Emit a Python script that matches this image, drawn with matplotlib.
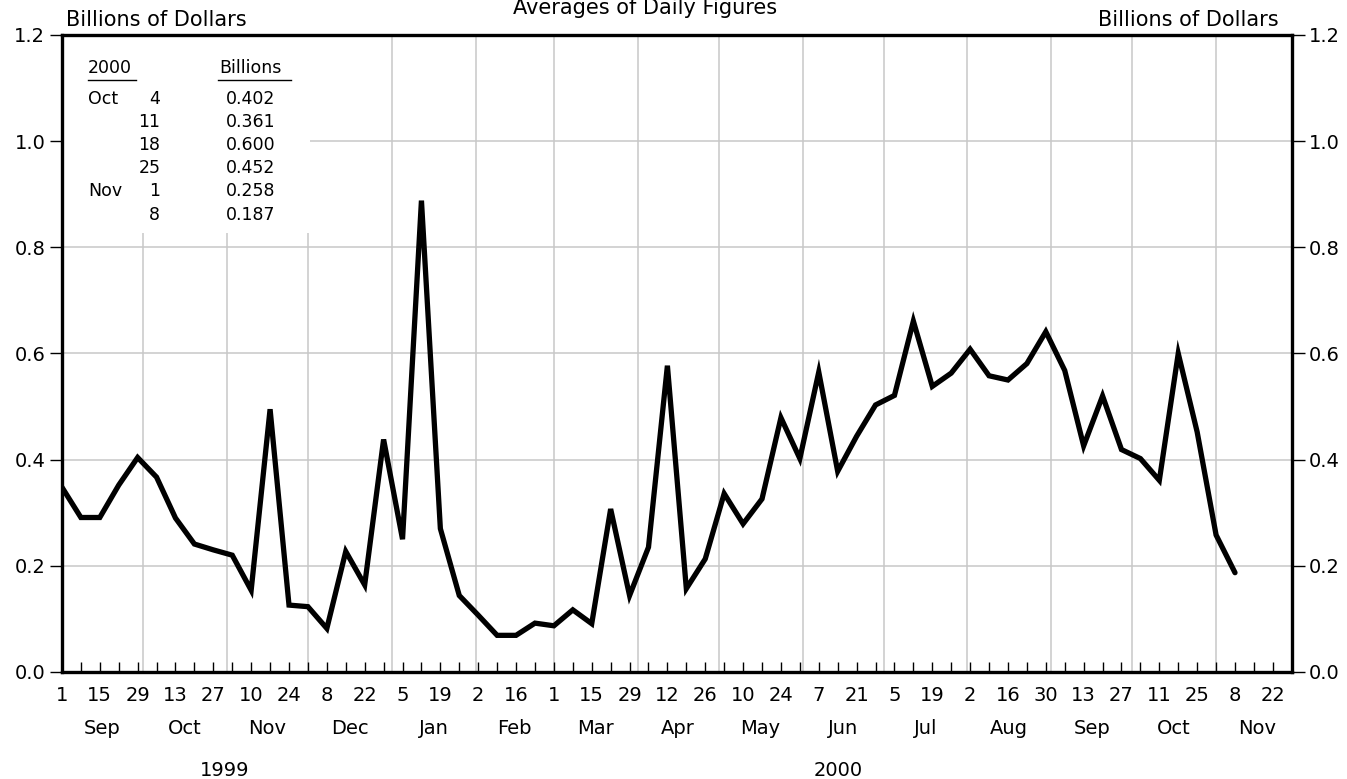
import numpy as np
import pandas as pd
import matplotlib
matplotlib.use('Agg')
import matplotlib.pyplot as plt
from matplotlib.patches import Rectangle

# weekly averages, billions of dollars, Wednesdays from Sep 1 1999
values = [0.348, 0.291, 0.291, 0.352, 0.404, 0.367, 0.290, 0.241, 0.230, 0.220,
          0.154, 0.495, 0.126, 0.123, 0.082, 0.227, 0.164, 0.438, 0.250, 0.888,
          0.270, 0.144, 0.107, 0.069, 0.069, 0.092, 0.087, 0.117, 0.091, 0.307,
          0.144, 0.235, 0.577, 0.157, 0.213, 0.336, 0.279, 0.326, 0.479, 0.402,
          0.565, 0.378, 0.444, 0.503, 0.521, 0.661, 0.538, 0.563, 0.608, 0.558,
          0.550, 0.581, 0.641, 0.568, 0.426, 0.520, 0.419, 0.402, 0.361, 0.600,
          0.452, 0.258, 0.187]
dates = pd.date_range('1999-09-01', periods=len(values), freq='7D')

tbl_month = ['Oct', '', '', '', 'Nov', '']
tbl_day = ['4', '11', '18', '25', '1', '8']
tbl_val = ['0.402', '0.361', '0.600', '0.452', '0.258', '0.187']

yticks = [0.0, 0.2, 0.4, 0.6, 0.8, 1.0, 1.2]
xstart = pd.Timestamp('1999-09-01')
xend = pd.Timestamp('2000-11-29')

fig = plt.figure(figsize=(13.47, 7.79), dpi=100)
ax = fig.add_axes([0.046, 0.1374, 0.913, 0.8177])

ax.plot(dates, values, color='black', lw=3.8, solid_joinstyle='miter',
        solid_capstyle='round', zorder=4)

ax.set_xlim(xstart, xend)
ax.set_ylim(0, 1.2)

# grid: horizontal every 0.2, vertical at month starts
for y in yticks[1:-1]:
    ax.axhline(y, color='#c8c8c8', lw=1.1, zorder=1)
month_starts = pd.date_range('1999-10-01', '2000-11-01', freq='MS')
for m in month_starts:
    ax.axvline(m, color='#c8c8c8', lw=1.1, zorder=1)

# white box behind the little table
ax.add_patch(Rectangle((0, 0.689), 0.2016, 0.311, transform=ax.transAxes,
                       facecolor='white', edgecolor='none', zorder=2))

tf = dict(transform=ax.transAxes, fontsize=12.5, zorder=5, va='center')
ax.text(0.021, 0.948, '2000', ha='left', **tf)
ax.text(0.128, 0.948, 'Billions', ha='left', **tf)
ax.plot([0.021, 0.060], [0.929, 0.929], transform=ax.transAxes, color='black', lw=1, zorder=5)
ax.plot([0.127, 0.186], [0.929, 0.929], transform=ax.transAxes, color='black', lw=1, zorder=5)
for k in range(len(tbl_val)):
    yy = 0.8995 - 0.0363 * k
    ax.text(0.021, yy, tbl_month[k], ha='left', **tf)
    ax.text(0.080, yy, tbl_day[k], ha='right', **tf)
    ax.text(0.133, yy, tbl_val[k], ha='left', **tf)

# y axis both sides
ax.set_yticks(yticks)
ax.set_yticklabels(['%.1f' % v for v in yticks])
ax.tick_params(axis='y', direction='out', length=9, width=1.0, left=True, right=True,
               labelleft=True, labelright=True, labelsize=14, pad=3)

# x axis: weekly minor ticks, biweekly labels
major = pd.date_range('1999-09-01', '2000-11-22', freq='14D')
minor = pd.date_range('1999-09-01', '2000-11-29', freq='7D')
ax.set_xticks(major)
ax.set_xticklabels([str(d.day) for d in major])
ax.set_xticks(minor, minor=True)
ax.tick_params(axis='x', which='both', direction='in', length=7, width=1.0,
               labelsize=14, pad=10, top=False)

# month names centered in each month, then years
tr = ax.get_xaxis_transform()
mbounds = pd.date_range('1999-09-01', '2000-12-01', freq='MS')
for a, b in zip(mbounds[:-1], mbounds[1:]):
    mid = a + (b - a) / 2
    ax.text(mid, -0.088, a.strftime('%b'), transform=tr, ha='center', va='center',
            fontsize=14, clip_on=False)
ax.text(pd.Timestamp('1999-10-31'), -0.154, '1999', transform=tr, ha='center',
        va='center', fontsize=14, clip_on=False)
ax.text(pd.Timestamp('2000-06-14'), -0.154, '2000', transform=tr, ha='center',
        va='center', fontsize=14, clip_on=False)

for s in ax.spines.values():
    s.set_linewidth(2.4)
    s.set_zorder(6)

fig.text(0.479, 0.99, 'Averages of Daily Figures', ha='center', va='center', fontsize=15)
fig.text(0.049, 0.974, 'Billions of Dollars', ha='left', va='center', fontsize=15)
fig.text(0.949, 0.974, 'Billions of Dollars', ha='right', va='center', fontsize=15)

fig.savefig('out.png', dpi=100)
